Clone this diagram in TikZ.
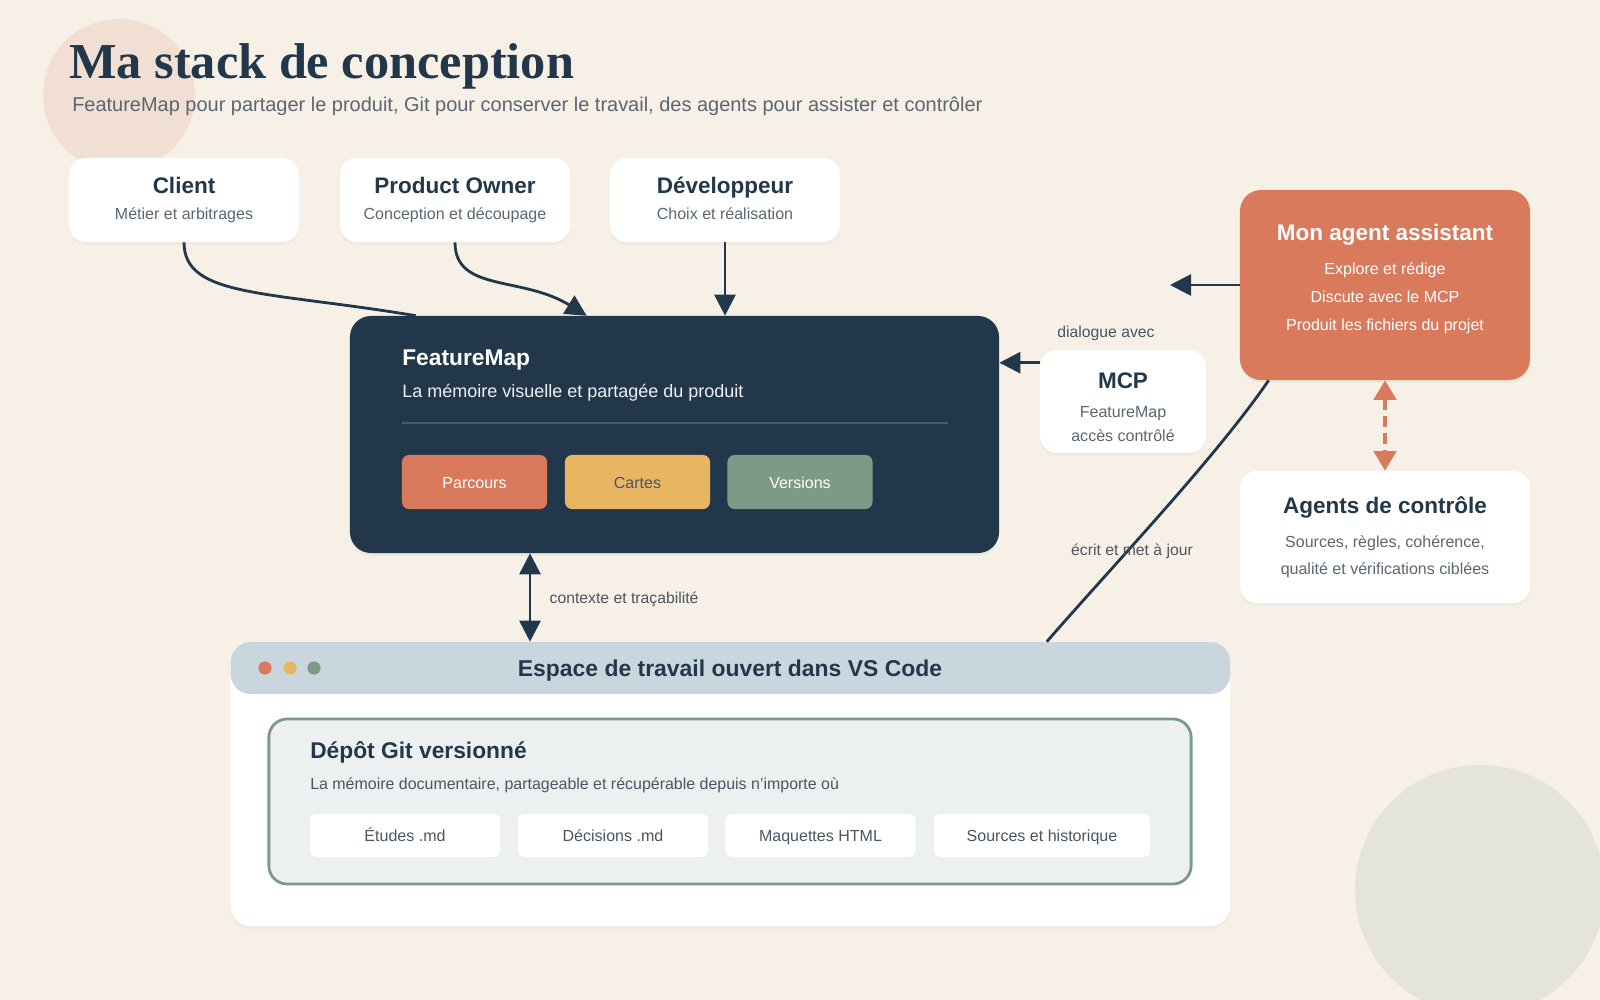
\documentclass[tikz,border=0pt]{standalone}
\usepackage{fontspec}
\setmainfont{Liberation Sans}
\newfontfamily\titleserif{Liberation Serif}
\usepackage{tikz}
\usetikzlibrary{arrows.meta,positioning,shadows,calc}
\usepackage{xcolor}
\definecolor{bgCream}{HTML}{F6F0E7}
\definecolor{inkNavy}{HTML}{22384A}
\definecolor{inkGray}{HTML}{5B6670}
\definecolor{inkText}{HTML}{4A5662}
\definecolor{inkLine}{HTML}{4A5B68}
\definecolor{accOrange}{HTML}{D97A5C}
\definecolor{accYellow}{HTML}{E8B563}
\definecolor{accGreen}{HTML}{7C9A86}
\definecolor{barBlue}{HTML}{C9D6DE}
\definecolor{gitFill}{HTML}{EDF0F0}
\definecolor{dotPeach}{HTML}{F1DFD4}
\definecolor{dotSage}{HTML}{E4E4D8}

\newcommand{\fsHead}{\fontsize{16}{19}\selectfont\bfseries\color{inkNavy}}
\newcommand{\fsBody}{\fontsize{11.4}{18.5}\selectfont}
\newcommand{\fsNote}{\fontsize{11.2}{14}\selectfont}

\tikzset{
    card/.style={rectangle, rounded corners=12pt, fill=white, minimum width=5.75cm, minimum height=2.1cm, align=center, text=inkGray, font=\fsBody, drop shadow={shadow xshift=0pt, shadow yshift=-2pt, opacity=0.06}},
    chip/.style={rectangle, rounded corners=5pt, minimum width=3.625cm, minimum height=1.35cm, font=\fsBody, text=white, text height=9pt, text depth=0pt},
    filechip/.style={rectangle, rounded corners=4pt, fill=white, minimum width=4.75cm, minimum height=1.075cm, font=\fsBody, text=inkText, text height=9pt, text depth=0pt},
    note/.style={font=\fsNote, text=inkText, inner sep=1pt},
    arrow/.style={-{Stealth[inset=0pt,length=15pt,width=15pt]}, line width=2pt, draw=inkNavy},
    twoway/.style={{Stealth[inset=0pt,length=15pt,width=15pt]}-{Stealth[inset=0pt,length=15pt,width=15pt]}, line width=2pt, draw=inkNavy},
    dashlink/.style={{Stealth[inset=0pt,length=14pt,width=16pt]}-{Stealth[inset=0pt,length=14pt,width=16pt]}, line width=2.6pt, draw=accOrange, dash pattern=on 8pt off 4pt},
    link/.style={line width=2pt, draw=inkNavy}
}

\begin{document}
\begin{tikzpicture}[x=0.025cm, y=-0.025cm]
    % Background and decorative circles
    \useasboundingbox (0,0) rectangle (1600,1000);
    \clip (0,0) rectangle (1600,1000);
    \fill[bgCream] (0,0) rectangle (1600,1000);
    \fill[dotPeach] (119,95) circle (76);
    \fill[dotSage] (1480,890) circle (125);

    % Title
    \node[anchor=base west, inner sep=0pt, font=\titleserif\fontsize{35.8}{40}\selectfont\bfseries, text=inkNavy] (title) at (69,78) {Ma stack de conception};
    \node[anchor=base west, inner sep=0pt, font=\fontsize{14.2}{17}\selectfont, text=inkGray] (subtitle) at (72,111) {FeatureMap pour partager le produit, Git pour conserver le travail, des agents pour assister et contrôler};

    % Roles
    \node[card] (client) at (184,200) {{\fsHead Client}\\Métier et arbitrages};
    \node[card] (po) at (455,200) {{\fsHead Product Owner}\\Conception et découpage};
    \node[card] (dev) at (725,200) {{\fsHead Développeur}\\Choix et réalisation\vphantom{g}};

    % FeatureMap
    \node[rectangle, rounded corners=15pt, fill=inkNavy, minimum width=16.225cm, minimum height=5.925cm, drop shadow={shadow xshift=0pt, shadow yshift=-2pt, opacity=0.08}] (fmap) at (674.5,434.5) {};
    \node[anchor=base west, inner sep=0pt, font=\fontsize{16.2}{19}\selectfont\bfseries, text=white] (fmapTitle) at (402,365) {FeatureMap};
    \node[anchor=base west, inner sep=0pt, font=\fontsize{12.8}{15}\selectfont, text=white!92!inkNavy] (fmapSub) at (402,397) {La mémoire visuelle et partagée du produit};
    \draw[inkLine, line width=1.4pt] (402,423) -- (948,423);
    \node[chip, fill=accOrange] (parcours) at (474.5,482) {Parcours};
    \node[chip, fill=accYellow, text=inkText] (cartes) at (637.5,482) {Cartes};
    \node[chip, fill=accGreen] (versions) at (800,482) {Versions};

    % MCP
    \node[card, rounded corners=12pt, minimum width=4.15cm, minimum height=2.575cm] (mcp) at (1123,401.5) {};
    \node[anchor=north, inner sep=0pt, align=center, text=inkGray, font=\fontsize{11.4}{16.8}\selectfont] (mcpTxt) at (1123,373) {{\fsHead MCP}\\[3.5pt]FeatureMap\\accès contrôlé};
    \node[note] (dialogue) at (1106,333) {dialogue avec};

    % Agents
    \node[rectangle, rounded corners=15pt, fill=accOrange, minimum width=7.25cm, minimum height=4.75cm, drop shadow={shadow xshift=0pt, shadow yshift=-2pt, opacity=0.08}] (agent) at (1385,285) {};
    \node[anchor=north, inner sep=0pt, align=center, text=white, font=\fontsize{11.4}{19.9}\selectfont] (agentTxt) at (1385,224) {{\fontsize{16}{19}\selectfont\bfseries Mon agent assistant}\\[4.3pt]Explore et rédige\\Discute avec le MCP\\Produit les fichiers du projet};
    \node[card, minimum width=7.25cm, minimum height=3.3cm, font=\fontsize{11.4}{19.2}\selectfont] (ctrl) at (1385,537) {{\fsHead Agents de contrôle}\\[5pt]Sources, règles, cohérence,\\qualité et vérifications ciblées};

    % Workspace window
    \node[rectangle, rounded corners=14pt, fill=white, minimum width=24.975cm, minimum height=7.1cm, drop shadow={shadow xshift=0pt, shadow yshift=-2pt, opacity=0.06}] (ws) at (730.5,784) {};
    \node[rectangle, rounded corners=14pt, fill=barBlue, minimum width=24.975cm, minimum height=1.3cm] (wsbar) at (730.5,668) {};
    \fill[accOrange] (265,668) circle (6.6);
    \fill[accYellow] (290,668) circle (6.6);
    \fill[accGreen] (314,668) circle (6.6);
    \node[anchor=base, inner sep=0pt, font=\fontsize{16.3}{19}\selectfont\bfseries\color{inkNavy}] (wsTitle) at (730,676) {Espace de travail ouvert dans VS Code};

    % Git repository
    \node[rectangle, rounded corners=13pt, fill=gitFill, draw=accGreen, line width=2pt, minimum width=23.05cm, minimum height=4.125cm] (git) at (730,801.5) {};
    \node[anchor=base west, inner sep=0pt, font=\fontsize{16.2}{19}\selectfont\bfseries\color{inkNavy}] (gitTitle) at (310,758) {Dépôt Git versionné};
    \node[anchor=base west, inner sep=0pt, font=\fontsize{11.35}{14}\selectfont, text=inkText] (gitSub) at (310,789) {La mémoire documentaire, partageable et récupérable depuis n’importe où};
    \node[filechip] (etudes) at (405,835.5) {Études .md};
    \node[filechip] (decisions) at (613,835.5) {Décisions .md};
    \node[filechip] (maquettes) at (820.5,835.5) {Maquettes HTML};
    \node[filechip, minimum width=5.4cm] (sources) at (1042,835.5) {Sources et historique};

    % Connectors
    \draw[link] (client.south) .. controls +(0,55) and +(-150,-25) .. ([xshift=1.65cm]fmap.north west);
    \draw[arrow] (po.south) .. controls +(0,50) and +(-65,-40) .. ([xshift=5.925cm]fmap.north west);
    \draw[arrow] (dev.south) -- (dev.south |- fmap.north);

    \coordinate (mcpOut) at ($(mcp.north west)+(0,13)$);
    \draw[arrow] (mcpOut) -- (mcpOut -| fmap.east);
    \coordinate (agentOut) at (1170,285);
    \draw[arrow] (agent.west) -- (agentOut);
    \draw[dashlink] (agent.south) -- (ctrl.north);

    \coordinate (ctxX) at (530,600);
    \draw[twoway] (fmap.south -| ctxX) -- (ws.north -| ctxX);
    \node[note, anchor=west] (contexte) at (548,599) {contexte et traçabilité};

    \draw[link] ([xshift=0.725cm]agent.south west) .. controls +(-55,80) and +(65,-75) .. ([xshift=20.4cm]ws.north west);
    \node[note] (ecrit) at (1132,551) {écrit et met à jour};
\end{tikzpicture}
\end{document}
